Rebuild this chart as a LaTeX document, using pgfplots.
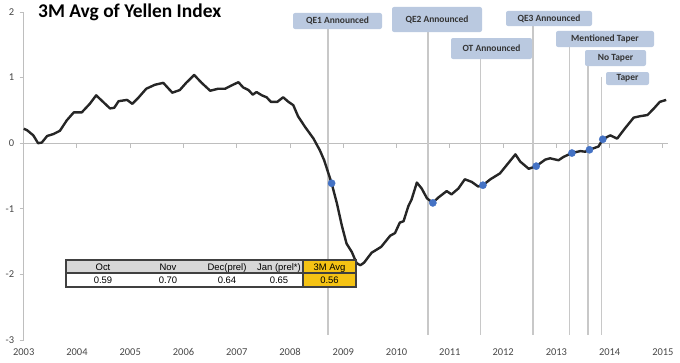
\documentclass[border=0pt]{standalone}
\usepackage{pgfplots}
\pgfplotsset{compat=1.18}
\usepackage{fontspec}
\setmainfont{Carlito}
\newfontfamily\arial{Liberation Sans}
\definecolor{axgray}{RGB}{190,190,190}
\definecolor{evgray}{RGB}{200,200,200}
\definecolor{boxblue}{RGB}{186,201,224}
\definecolor{dotblue}{RGB}{68,114,196}
\definecolor{lblgray}{RGB}{70,70,70}
\definecolor{gold}{RGB}{245,195,20}
\definecolor{hdrgray}{RGB}{215,215,215}
\begin{document}
\begin{tikzpicture}[x=1bp,y=1bp]
\useasboundingbox (0,0) rectangle (680,362);
\begin{axis}[
  at={(23.7bp,22bp)}, anchor=south west,
  scale only axis, width=644.6bp, height=328bp,
  xmin=2003, xmax=2015.1, ymin=-3, ymax=2,
  axis x line*=bottom, axis y line*=left,
  x axis line style={draw=none},
  y axis line style={draw=axgray, line width=1bp},
  xtick={2003,...,2015},
  xticklabels={2003,2004,2005,2006,2007,2008,2009,2010,2011,2012,2013,2014,2015},
  ytick={-3,-2,-1,0,1,2},
  yticklabels={-3,-2,-1,0,1,2},
  xtick style={draw=none},
  ytick style={draw=axgray, line width=1bp},
  tick align=outside, major tick length=4bp,
  tick label style={font=\fontsize{10.5}{12}\selectfont, text=lblgray},
  yticklabel style={xshift=-2bp},
  xticklabel style={yshift=-1bp},
  clip=false,
]
\addplot[axgray, line width=1bp] coordinates {(2003,0) (2015.1,0)};
\addplot[axgray, ycomb, line width=1bp, mark=none] coordinates {
(2004,-0.07) (2005,-0.07) (2006,-0.07) (2007,-0.07) (2008,-0.07) (2009,-0.07)
(2010,-0.07) (2011,-0.07) (2012,-0.07) (2013,-0.07) (2014,-0.07) (2015,-0.07)};
% event lines
\addplot[evgray, line width=1.3bp] coordinates {(2008.71,1.74) (2008.71,-2.93)};
\addplot[evgray, line width=1.3bp] coordinates {(2010.59,1.69) (2010.59,-2.93)};
\addplot[evgray, line width=1.3bp] coordinates {(2011.57,1.28) (2011.57,-2.93)};
\addplot[evgray, line width=1.3bp] coordinates {(2012.56,1.78) (2012.56,-2.93)};
\addplot[evgray, line width=1.3bp] coordinates {(2013.24,1.46) (2013.24,-2.93)};
\addplot[evgray, line width=1.3bp] coordinates {(2013.59,1.17) (2013.59,-2.93)};
\addplot[evgray, line width=1.3bp] coordinates {(2013.84,1.01) (2013.84,-2.93)};
% index line
\addplot[black!85, line width=2.4bp, line join=round, mark=none] coordinates {
(2003.00,0.22) (2003.06,0.20) (2003.18,0.12) (2003.27,0.00) (2003.34,0.01)
(2003.44,0.11) (2003.56,0.14) (2003.68,0.19) (2003.81,0.35) (2003.94,0.47)
(2004.09,0.47) (2004.24,0.60) (2004.36,0.73) (2004.49,0.63) (2004.62,0.53)
(2004.70,0.54) (2004.78,0.64) (2004.94,0.66) (2005.04,0.60) (2005.16,0.70)
(2005.30,0.83) (2005.46,0.89) (2005.62,0.92) (2005.79,0.77) (2005.93,0.81)
(2006.05,0.92) (2006.20,1.04) (2006.34,0.92) (2006.50,0.80) (2006.65,0.83)
(2006.78,0.83) (2006.90,0.88) (2007.03,0.93) (2007.12,0.85) (2007.22,0.81)
(2007.30,0.74) (2007.37,0.78) (2007.47,0.73) (2007.56,0.70) (2007.64,0.63)
(2007.76,0.63) (2007.87,0.70) (2007.97,0.63) (2008.06,0.58) (2008.15,0.41)
(2008.28,0.25) (2008.44,0.07) (2008.56,-0.11) (2008.64,-0.26) (2008.72,-0.46)
(2008.78,-0.61) (2008.88,-0.92) (2008.97,-1.25) (2009.06,-1.53) (2009.16,-1.66)
(2009.25,-1.83) (2009.32,-1.86) (2009.39,-1.82) (2009.53,-1.67) (2009.71,-1.58)
(2009.88,-1.41) (2009.97,-1.37) (2010.06,-1.21) (2010.13,-1.19) (2010.22,-0.96)
(2010.28,-0.86) (2010.38,-0.60) (2010.47,-0.69) (2010.57,-0.84) (2010.68,-0.91)
(2010.78,-0.83) (2010.94,-0.73) (2011.03,-0.78) (2011.16,-0.69) (2011.28,-0.55)
(2011.41,-0.59) (2011.53,-0.66) (2011.62,-0.64) (2011.76,-0.55) (2011.94,-0.46)
(2012.06,-0.34) (2012.23,-0.17) (2012.32,-0.28) (2012.48,-0.39) (2012.62,-0.35)
(2012.79,-0.25) (2012.88,-0.23) (2013.04,-0.26) (2013.13,-0.21) (2013.29,-0.15)
(2013.45,-0.12) (2013.54,-0.13) (2013.62,-0.10) (2013.79,-0.05) (2013.87,0.06)
(2014.01,0.12) (2014.14,0.07) (2014.28,0.22) (2014.45,0.39) (2014.56,0.41)
(2014.71,0.43) (2014.83,0.53) (2014.94,0.63) (2015.06,0.66)};
\addplot[only marks, mark=*, mark size=3.6bp, color=dotblue] coordinates {
(2008.78,-0.61) (2010.68,-0.91) (2011.62,-0.64) (2012.62,-0.35)
(2013.29,-0.15) (2013.62,-0.10) (2013.87,0.06)};
\end{axis}
% title
\node[anchor=base west, inner sep=0, font=\fontsize{19.5}{22}\selectfont\bfseries] at (38,344.5) {3M Avg of Yellen Index};
% event boxes
\tikzset{evbox/.style={fill=boxblue, rounded corners=2bp, inner sep=0, align=center,
  font=\fontsize{9.5}{11}\selectfont\bfseries, text=black!80}}
\node[evbox, minimum width=89bp, minimum height=16bp] at (337.5,341) {QE1 Announced};
\node[evbox, minimum width=90bp, minimum height=25bp] at (437,342.5) {QE2 Announced};
\node[evbox, minimum width=81bp, minimum height=21bp] at (491.5,313.5) {OT Announced};
\node[evbox, minimum width=86bp, minimum height=15bp] at (549,343.5) {QE3 Announced};
\node[evbox, minimum width=98bp, minimum height=16bp] at (605,323) {Mentioned Taper};
\node[evbox, minimum width=61bp, minimum height=16bp] at (615.5,304) {No Taper};
\node[evbox, minimum width=43bp, minimum height=13bp] at (627.5,283.5) {Taper};
% table
\fill[hdrgray] (66,89) rectangle (303,102);
\fill[white] (66,75) rectangle (303,89);
\fill[gold] (303,75) rectangle (356,102);
\draw[black!75, line width=1.2bp] (66,75) rectangle (356,102);
\draw[black!75, line width=1.2bp] (66,89) -- (356,89);
\draw[black!75, line width=1.2bp] (303,75) -- (303,102);
\begin{scope}[every node/.style={font=\arial\fontsize{9.5}{11}\selectfont, inner sep=0, anchor=base}]
\node at (103,92) {Oct};
\node at (168,92) {Nov};
\node at (227,92) {Dec(prel)};
\node at (279,92) {Jan (prel*)};
\node at (329.5,92) {3M Avg};
\node at (103,78.5) {0.59};
\node at (168,78.5) {0.70};
\node at (227,78.5) {0.64};
\node at (279,78.5) {0.65};
\node at (329.5,78.5) {0.56};
\end{scope}
\end{tikzpicture}
\end{document}
